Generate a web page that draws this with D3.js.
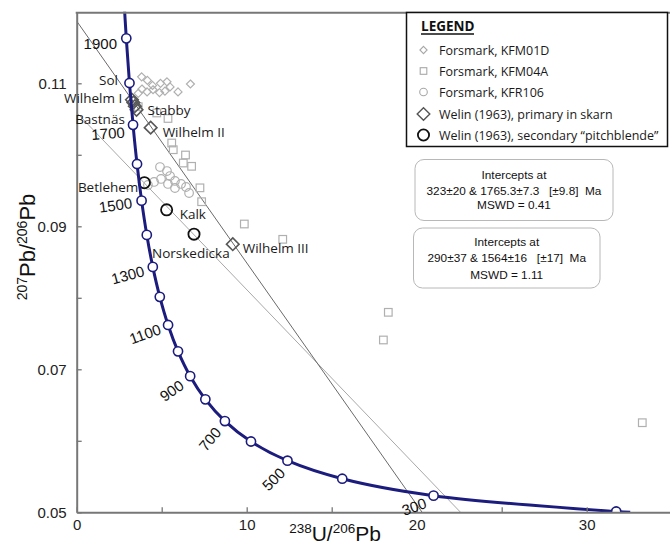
<!DOCTYPE html>
<html><head><meta charset="utf-8">
<script src="https://cdn.jsdelivr.net/npm/d3@7/dist/d3.min.js"></script>
<style>
html,body{margin:0;padding:0;background:#fff;}
svg{display:block;}
</style></head>
<body><svg id="c" width="670" height="547"></svg>
<script>
// ---------------- DATA ----------------
// Concordia (Tera-Wasserburg) points: age (Ma), 238U/206Pb, 207Pb/206Pb
const concAges = [195, 200, 300, 400, 500, 600, 700, 800, 900, 1000, 1100, 1200, 1300, 1400, 1500, 1600, 1700, 1800, 1900, 2000];
const concX = [32.56, 31.735, 20.992, 15.621, 12.399, 10.252, 8.718, 7.568, 6.674, 5.960, 5.375, 4.888, 4.476, 4.123, 3.817, 3.549, 3.314, 3.105, 2.917, 2.749];
const concY = [0.0500, 0.05011, 0.05233, 0.05470, 0.05722, 0.05990, 0.06276, 0.06580, 0.06904, 0.07251, 0.07620, 0.08013, 0.08432, 0.08880, 0.09359, 0.09871, 0.10419, 0.11004, 0.11629, 0.12300];
const markerAges = [200, 300, 400, 500, 600, 700, 800, 900, 1000, 1100, 1200, 1300, 1400, 1500, 1600, 1700, 1800, 1900];
const labelledAges = [1900, 1700, 1500, 1300, 1100, 900, 700, 500, 300];

// Discordia lines (x, y at both ends)
const discordA = [[0, 0.1187], [20.32, 0.0500]];   // 323 & 1765 Ma
const discordB = [[0, 0.1059], [22.58, 0.0500]];   // 290 & 1564 Ma

// Forsmark KFM01D
const kfm01dX = [3.82, 4.16, 4.46, 4.93, 5.31, 5.49, 5.19, 4.87, 4.49, 4.14, 3.84, 5.96, 6.69, 3.62];
const kfm01dY = [0.1109, 0.1104, 0.1097, 0.1100, 0.1102, 0.1095, 0.1089, 0.1087, 0.1091, 0.1088, 0.1092, 0.1088, 0.1099, 0.1086];
// Forsmark KFM04A
const kfm04aX = [3.62, 4.71, 5.37, 5.59, 5.68, 6.40, 6.27, 6.76, 7.25, 7.35, 9.86, 12.12, 18.33, 18.04, 33.27];
const kfm04aY = [0.10673, 0.10585, 0.10508, 0.10165, 0.10071, 0.09997, 0.09885, 0.09839, 0.09538, 0.09344, 0.09032, 0.08818, 0.07797, 0.07410, 0.06253];
// Forsmark KFR106
const kfr106X = [4.90, 5.31, 5.49, 4.96, 4.55, 5.37, 5.78, 6.43, 6.61, 5.78, 4.19, 6.14];
const kfr106Y = [0.09829, 0.09773, 0.09703, 0.09662, 0.09620, 0.09592, 0.09536, 0.09550, 0.09466, 0.09634, 0.09578, 0.09592];
// Welin (1963) primary in skarn
const welinPrimName = ["Sol", "Wilhelm I", "Bastnäs", "Stabby", "Wilhelm II", "Wilhelm III"];
const welinPrimX = [3.25, 3.33, 3.42, 3.52, 4.35, 9.18];
const welinPrimY = [0.1077, 0.1073, 0.1068, 0.1063, 0.1038, 0.0875];
// Welin (1963) secondary "pitchblende"
const welinSecName = ["Betlehem", "Kalk", "Norskedicka"];
const welinSecX = [3.98, 5.29, 6.90];
const welinSecY = [0.0961, 0.0923, 0.0889];

// Axis ticks
const xTicks = [0, 5, 10, 15, 20, 25, 30, 35];
const xTickLabels = [0, 10, 20, 30];
const yTicks = [0.05, 0.06, 0.07, 0.08, 0.09, 0.10, 0.11];
const yTickLabels = [0.05, 0.07, 0.09, 0.11];

const legendLabels = ["Forsmark, KFM01D", "Forsmark, KFM04A", "Forsmark, KFR106", "Welin (1963), primary in skarn", "Welin (1963), secondary \u201Cpitchblende\u201D"];
const box1Lines = ["Intercepts at", "323\u00B120 & 1765.3\u00B17.3   [\u00B19.8]  Ma", "MSWD = 0.41"];
const box2Lines = ["Intercepts at", "290\u00B137 & 1564\u00B116   [\u00B117]  Ma", "MSWD = 1.11"];

// ---------------- LAYOUT / STYLE ----------------
const svg = d3.select("#c");
const x = d3.scaleLinear().domain([0, 35]).range([76.7, 671.7]);
const y = d3.scaleLinear().domain([0.05, 0.12]).range([512.3, 11.8]);
const NAVY = "#1c1c7e";
const sansFont = "'Liberation Sans', Arial, sans-serif";
const labFont = "'Open Sans', 'Liberation Sans', sans-serif";

// placement of age labels relative to markers: [dx, dy, rotation]
const agePlace = {
  1900: [-26, 5, 0], 1700: [-25, 8.5, -4], 1500: [-26, 4.5, -8], 1300: [-25, 8, -15],
  1100: [-23, 9, -20], 900: [-18.5, 14.5, -35], 700: [-15, 18, -50], 500: [-14, 18.5, -45], 300: [-19.5, 11, -20]
};
// placement of sample labels relative to marker: [dx, dy, anchor]
const primPlace = {
  "Sol": [-14, -20, "end"], "Wilhelm I": [-11, -4, "end"], "Bastnäs": [-10, 13, "end"],
  "Stabby": [11, 0.5, "start"], "Wilhelm II": [12, 5, "start"], "Wilhelm III": [10, 4, "start"]
};
const secPlace = {
  "Betlehem": [-6, 4.5, "end"], "Kalk": [13, 4, "start"], "Norskedicka": [-42, 19, "start"]
};

const defs = svg.append("defs");
defs.append("clipPath").attr("id", "plotclip").append("rect")
  .attr("x", x(0)).attr("y", y(0.12)).attr("width", x(35) - x(0)).attr("height", y(0.05) - y(0.12));

const plot = svg.append("g").attr("clip-path", "url(#plotclip)");

// Discordia lines
const lineGen = d3.line().x(d => x(d[0])).y(d => y(d[1]));
plot.append("path").attr("d", lineGen(discordB)).attr("fill", "none").attr("stroke", "#a8a8a8").attr("stroke-width", 1);
plot.append("path").attr("d", lineGen(discordA)).attr("fill", "none").attr("stroke", "#6a6a6a").attr("stroke-width", 1);

// Forsmark symbols
const diamond = (cx, cy, h) => `M${cx},${cy - h}L${cx + h},${cy}L${cx},${cy + h}L${cx - h},${cy}Z`;
plot.append("g").selectAll("path").data(kfm01dX.map((v, i) => [v, kfm01dY[i]])).join("path")
  .attr("d", d => diamond(x(d[0]), y(d[1]), 4)).attr("fill", "none").attr("stroke", "#b0b0b0").attr("stroke-width", 1.2);
plot.append("g").selectAll("rect").data(kfm04aX.map((v, i) => [v, kfm04aY[i]])).join("rect")
  .attr("x", d => x(d[0]) - 3.8).attr("y", d => y(d[1]) - 3.8).attr("width", 7.6).attr("height", 7.6)
  .attr("fill", "none").attr("stroke", "#b0b0b0").attr("stroke-width", 1.2);
plot.append("g").selectAll("circle").data(kfr106X.map((v, i) => [v, kfr106Y[i]])).join("circle")
  .attr("cx", d => x(d[0])).attr("cy", d => y(d[1])).attr("r", 4.3)
  .attr("fill", "none").attr("stroke", "#b0b0b0").attr("stroke-width", 1.2);

// Welin primary diamonds
const prim = welinPrimX.map((v, i) => ({ name: welinPrimName[i], x: v, y: welinPrimY[i] }));
plot.append("g").selectAll("path").data(prim).join("path")
  .attr("d", d => diamond(x(d.x), y(d.y), 6.3)).attr("fill", "none").attr("stroke", "#585858").attr("stroke-width", 1.6);

// Welin secondary circles
const sec = welinSecX.map((v, i) => ({ name: welinSecName[i], x: v, y: welinSecY[i] }));
plot.append("g").selectAll("circle").data(sec).join("circle")
  .attr("cx", d => x(d.x)).attr("cy", d => y(d.y)).attr("r", 5.6)
  .attr("fill", "none").attr("stroke", "#111").attr("stroke-width", 1.8);

// Concordia
const conc = concAges.map((a, i) => ({ age: a, x: concX[i], y: concY[i] }));
plot.append("path").datum(conc)
  .attr("d", d3.line().x(d => x(d.x)).y(d => y(d.y)).curve(d3.curveCatmullRom))
  .attr("fill", "none").attr("stroke", NAVY).attr("stroke-width", 3);
plot.append("g").selectAll("circle").data(conc.filter(d => markerAges.includes(d.age))).join("circle")
  .attr("cx", d => x(d.x)).attr("cy", d => y(d.y)).attr("r", 4.6)
  .attr("fill", "#fff").attr("stroke", NAVY).attr("stroke-width", 1.6);

// Axes
const xAxis = d3.axisBottom(x).tickValues(xTicks).tickSize(-5).tickSizeOuter(0).tickPadding(7)
  .tickFormat(d => xTickLabels.includes(d) ? String(d) : "");
const gx = svg.append("g").attr("transform", `translate(0,${y(0.05)})`).call(xAxis);
const yAxis = d3.axisLeft(y).tickValues(yTicks).tickSize(-5).tickSizeOuter(0).tickPadding(10)
  .tickFormat(d => yTickLabels.some(v => Math.abs(v - d) < 1e-9) ? d3.format(".2f")(d) : "");
const gy = svg.append("g").attr("transform", `translate(${x(0)},0)`).call(yAxis);
[gx, gy].forEach(g => {
  g.select(".domain").attr("stroke", "#777").attr("stroke-width", 2);
  g.selectAll(".tick line").attr("stroke", "#777").attr("stroke-width", 1.3);
  g.selectAll(".tick text").attr("fill", "#222").style("font-family", sansFont).style("font-size", "15px");
});
// top frame line
svg.append("line").attr("x1", x(0) - 1).attr("x2", 670).attr("y1", y(0.12) + 0.9).attr("y2", y(0.12) + 0.9)
  .attr("stroke", "#777").attr("stroke-width", 2);

// Axis titles
const xt = svg.append("text").attr("x", 335).attr("y", 541).attr("text-anchor", "middle")
  .style("font-family", sansFont).style("font-size", "21px").attr("fill", "#111");
xt.append("tspan").text("238").style("font-size", "13.5px").attr("dy", "-8");
xt.append("tspan").text("U/").attr("dy", "8");
xt.append("tspan").text("206").style("font-size", "13.5px").attr("dy", "-8");
xt.append("tspan").text("Pb").attr("dy", "8");

const yt = svg.append("text").attr("transform", "translate(35,247) rotate(-90)").attr("text-anchor", "middle")
  .style("font-family", sansFont).style("font-size", "22px").attr("fill", "#111");
yt.append("tspan").text("207").style("font-size", "14px").attr("dy", "-8");
yt.append("tspan").text("Pb/").attr("dy", "8");
yt.append("tspan").text("206").style("font-size", "14px").attr("dy", "-8");
yt.append("tspan").text("Pb").attr("dy", "8");

// Age labels
svg.append("g").selectAll("text").data(conc.filter(d => labelledAges.includes(d.age))).join("text")
  .attr("transform", d => {
    const p = agePlace[d.age];
    return `translate(${x(d.x) + p[0]},${y(d.y) + p[1]}) rotate(${p[2]})`;
  })
  .attr("text-anchor", "middle").attr("dy", "0.36em")
  .style("font-family", sansFont).style("font-size", "15px").attr("fill", "#111")
  .text(d => d.age);

// Sample labels
svg.append("g").selectAll("text").data(prim).join("text")
  .attr("x", d => x(d.x) + primPlace[d.name][0]).attr("y", d => y(d.y) + primPlace[d.name][1])
  .attr("text-anchor", d => primPlace[d.name][2]).attr("dy", "0.36em")
  .style("font-family", labFont).style("font-size", "13.5px").attr("fill", "#1a1a1a")
  .text(d => d.name);
svg.append("g").selectAll("text").data(sec).join("text")
  .attr("x", d => x(d.x) + secPlace[d.name][0]).attr("y", d => y(d.y) + secPlace[d.name][1])
  .attr("text-anchor", d => secPlace[d.name][2]).attr("dy", "0.36em")
  .style("font-family", labFont).style("font-size", "13.5px").attr("fill", "#1a1a1a")
  .text(d => d.name);

// Legend
const lg = svg.append("g");
lg.append("rect").attr("x", 406.5).attr("y", 12.5).attr("width", 261).attr("height", 134)
  .attr("fill", "#fff").attr("stroke", "#111").attr("stroke-width", 1.5);
lg.append("text").attr("x", 421).attr("y", 31).text("LEGEND")
  .style("font-family", labFont).style("font-size", "13.5px").style("font-weight", "700").attr("fill", "#111");
lg.append("line").attr("x1", 421).attr("x2", 474).attr("y1", 34).attr("y2", 34).attr("stroke", "#111").attr("stroke-width", 1.3);
const rowsY = [50, 71, 92, 114, 135];
const sx = 423.5;
lg.append("path").attr("d", diamond(sx, rowsY[0], 3.6)).attr("fill", "none").attr("stroke", "#a8a8a8").attr("stroke-width", 1.1);
lg.append("rect").attr("x", sx - 3.3).attr("y", rowsY[1] - 3.3).attr("width", 6.6).attr("height", 6.6).attr("fill", "none").attr("stroke", "#a8a8a8").attr("stroke-width", 1.1);
lg.append("circle").attr("cx", sx).attr("cy", rowsY[2]).attr("r", 3.8).attr("fill", "none").attr("stroke", "#a8a8a8").attr("stroke-width", 1.1);
lg.append("path").attr("d", diamond(sx, rowsY[3], 6.3)).attr("fill", "none").attr("stroke", "#555").attr("stroke-width", 1.4);
lg.append("circle").attr("cx", sx).attr("cy", rowsY[4]).attr("r", 5.6).attr("fill", "none").attr("stroke", "#111").attr("stroke-width", 1.8);
lg.selectAll("text.item").data(legendLabels).join("text").attr("class", "item")
  .attr("x", 439).attr("y", (d, i) => rowsY[i]).attr("dy", "0.36em")
  .style("font-family", labFont).style("font-size", "12.5px").attr("fill", "#1a1a1a")
  .text(d => d);

// Intercept boxes
function infoBox(bx, by, bw, bh, lines, ys) {
  const g = svg.append("g");
  g.append("rect").attr("x", bx).attr("y", by).attr("width", bw).attr("height", bh).attr("rx", 9)
    .attr("fill", "#fff").attr("stroke", "#b8b8b8").attr("stroke-width", 1);
  g.selectAll("text").data(lines).join("text")
    .attr("x", bx + bw / 2).attr("y", (d, i) => ys[i]).attr("dy", "0.36em").attr("text-anchor", "middle")
    .style("font-family", sansFont).style("font-size", "11.8px").style("white-space", "pre")
    .attr("xml:space", "preserve").attr("fill", "#111")
    .text(d => d);
}
infoBox(415, 159.5, 198, 61, box1Lines, [175, 190.5, 205]);
infoBox(413.5, 228, 186.5, 60, box2Lines, [242, 258, 275]);
</script></body></html>
